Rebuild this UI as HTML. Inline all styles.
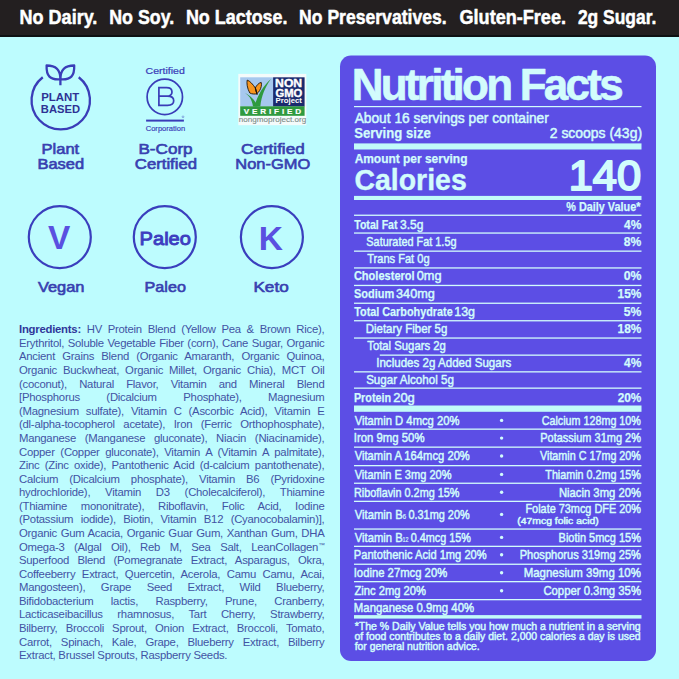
<!DOCTYPE html>
<html><head><meta charset="utf-8"><style>
*{margin:0;padding:0;box-sizing:border-box}
html,body{width:679px;height:679px;overflow:hidden;background:#bdfcfe}
body{font-family:"Liberation Sans", sans-serif;position:relative}
.a{position:absolute;white-space:nowrap}
svg text{font-family:"Liberation Sans",sans-serif}
.ing{position:absolute;left:18.5px;width:277.73px;font-size:10.3px;line-height:13.58px;color:#4253a4;text-align:justify;text-align-last:justify;white-space:nowrap;transform:scaleX(1.1);transform-origin:0 0;letter-spacing:-0.22px}
</style></head><body>
<div class="a" style="left:0;top:0;width:679px;height:37px;background:#231f20"></div><div class="a" style="left:0;top:34.5px;width:679px;height:2.5px;background:#0e1113"></div><svg class="a" style="left:0;top:0" width="679" height="37" viewBox="0 0 679 37"><text x="19.58" y="24.3" font-size="19.8" font-weight="700" fill="#ffffff" stroke="#ffffff" stroke-width="0.5" stroke-linejoin="round" textLength="77.76" lengthAdjust="spacingAndGlyphs">No Dairy.</text><text x="109.19" y="24.3" font-size="19.8" font-weight="700" fill="#ffffff" stroke="#ffffff" stroke-width="0.5" stroke-linejoin="round" textLength="64.98" lengthAdjust="spacingAndGlyphs">No Soy.</text><text x="185.88" y="24.3" font-size="19.8" font-weight="700" fill="#ffffff" stroke="#ffffff" stroke-width="0.5" stroke-linejoin="round" textLength="101.69" lengthAdjust="spacingAndGlyphs">No Lactose.</text><text x="299.11" y="24.3" font-size="19.8" font-weight="700" fill="#ffffff" stroke="#ffffff" stroke-width="0.5" stroke-linejoin="round" textLength="147.46" lengthAdjust="spacingAndGlyphs">No Preservatives.</text><text x="459.53" y="24.3" font-size="19.8" font-weight="700" fill="#ffffff" stroke="#ffffff" stroke-width="0.5" stroke-linejoin="round" textLength="106.48" lengthAdjust="spacingAndGlyphs">Gluten-Free.</text><text x="577.94" y="24.3" font-size="19.8" font-weight="700" fill="#ffffff" stroke="#ffffff" stroke-width="0.5" stroke-linejoin="round" textLength="78.37" lengthAdjust="spacingAndGlyphs">2g Sugar.</text></svg><svg class="a" style="left:0;top:37px" width="340" height="270" viewBox="0 37 340 270"><path d="M 42.77 77.24 A 29.2 29.2 0 1 0 78.73 77.24" fill="none" stroke="#3a3db8" stroke-width="2.3"/><path d="M 60.4 79.3 C 60.4 70.5 57 65.5 46.6 65.5 C 46.2 76 50 80.2 60.4 79.3 Z M 60.4 79.3 C 60.4 70.5 63.8 65.5 74.2 65.5 C 74.6 76 70.8 80.2 60.4 79.3 Z M 60.4 79 L 60.4 85.3" fill="none" stroke="#3a3db8" stroke-width="2.3" stroke-linejoin="round"/><text x="41.16" y="100.8" font-size="10.8" font-weight="700" fill="#2e3294" textLength="38.09" lengthAdjust="spacingAndGlyphs">PLANT</text><text x="40.87" y="112.5" font-size="10.8" font-weight="700" fill="#2e3294" textLength="39.18" lengthAdjust="spacingAndGlyphs">BASED</text><text x="145.57" y="73.5" font-size="8.8" font-weight="400" fill="#3a3db8" stroke="#3a3db8" stroke-width="0.2" textLength="39.30" lengthAdjust="spacingAndGlyphs">Certified</text><circle cx="164.8" cy="96.9" r="17.7" fill="none" stroke="#3a3db8" stroke-width="1.7"/><path d="M 166.5 96.2 H 158.9 V 87.6 H 166.5 C 170.5 87.6 172 89.5 172 91.9 C 172 94.3 170.5 96.2 166.5 96.2 H 167.5 C 171.7 96.2 173.7 98.2 173.7 100.8 C 173.7 103.4 171.7 105.4 167.5 105.4 H 158.9 V 96" fill="none" stroke="#3a3db8" stroke-width="1.7"/><rect x="146.1" y="119.6" width="37.8" height="2" fill="#3a3db8"/><circle cx="183" cy="116.8" r="0.9" fill="none" stroke="#3a3db8" stroke-width="0.4"/><text x="145.72" y="130.6" font-size="6.5" font-weight="400" fill="#3a3db8" stroke="#3a3db8" stroke-width="0.15" textLength="39.47" lengthAdjust="spacingAndGlyphs">Corporation</text><rect x="238.3" y="73.9" width="68" height="51.3" fill="#f4fbfb"/><rect x="240.2" y="77.3" width="32.9" height="29.2" fill="#a6c8ee"/><rect x="273.1" y="77.3" width="31.5" height="29.2" fill="#1b2a6e"/><rect x="240.2" y="106.3" width="64.4" height="9.5" fill="#2f9a3f"/><path d="M 243 92 C 248.5 94.5 252 99 253 106.4 L 257.5 106.4 C 255 99.5 249.5 94.5 243 92 Z" fill="#2f9a3f"/><path d="M 271 79 C 263.5 85.5 257.5 95 254.5 106.4 L 260.3 106.4 C 261.5 96 265 87 271 79 Z" fill="#2f9a3f"/><path d="M 255.3 88 C 253 84.5 250 81 247.2 80.1 C 246.6 83 247 88 249.8 93 C 252 94.2 255 94.2 256.8 93.8 Z M 255.3 88 C 256.5 85.5 258.5 83 261.2 82.4 C 262 84.5 261 88.5 259.6 90.6 C 258.8 92 257.8 93 256.8 93.6 Z" fill="#f7961f" stroke="#1e140a" stroke-width="0.9" stroke-linejoin="round"/><path d="M 255.4 87.8 L 257.2 95" stroke="#1e140a" stroke-width="0.9"/><text x="275.11" y="86.6" font-size="10.3" font-weight="700" fill="#ffffff" stroke="#ffffff" stroke-width="0.35" textLength="27.01" lengthAdjust="spacingAndGlyphs">NON</text><text x="275.45" y="97.1" font-size="10.3" font-weight="700" fill="#ffffff" stroke="#ffffff" stroke-width="0.35" textLength="26.84" lengthAdjust="spacingAndGlyphs">GMO</text><text x="275.49" y="103.3" font-size="6.9" font-weight="700" fill="#ffffff" textLength="26.43" lengthAdjust="spacingAndGlyphs">Project</text><text x="272.4" y="114.4" font-size="8.1" font-weight="700" fill="#ffffff" stroke="#ffffff" stroke-width="0.2" text-anchor="middle" textLength="57.5" lengthAdjust="spacing">VERIFIED</text><text x="238.88" y="121.9" font-size="6.4" font-weight="400" fill="#7d8c88" stroke="#7d8c88" stroke-width="0.1" textLength="67.34" lengthAdjust="spacingAndGlyphs">nongmoproject.org</text><text x="41.58" y="154" font-size="14.5" font-weight="400" fill="#3840b0" stroke="#3840b0" stroke-width="0.6" textLength="37.57" lengthAdjust="spacingAndGlyphs">Plant</text><text x="37.48" y="169.4" font-size="14.5" font-weight="400" fill="#3840b0" stroke="#3840b0" stroke-width="0.6" textLength="46.70" lengthAdjust="spacingAndGlyphs">Based</text><text x="138.43" y="154" font-size="14.5" font-weight="400" fill="#3840b0" stroke="#3840b0" stroke-width="0.6" textLength="54.20" lengthAdjust="spacingAndGlyphs">B-Corp</text><text x="134.86" y="169.4" font-size="14.5" font-weight="400" fill="#3840b0" stroke="#3840b0" stroke-width="0.6" textLength="62.20" lengthAdjust="spacingAndGlyphs">Certified</text><text x="241.05" y="153.9" font-size="14.5" font-weight="400" fill="#3840b0" stroke="#3840b0" stroke-width="0.6" textLength="63.64" lengthAdjust="spacingAndGlyphs">Certified</text><text x="235.28" y="168.9" font-size="14.5" font-weight="400" fill="#3840b0" stroke="#3840b0" stroke-width="0.6" textLength="74.98" lengthAdjust="spacingAndGlyphs">Non-GMO</text><circle cx="59.8" cy="237.1" r="31" fill="none" stroke="#3a3ebd" stroke-width="2.2"/><circle cx="164.8" cy="237.1" r="31" fill="none" stroke="#3a3ebd" stroke-width="2.2"/><circle cx="271.9" cy="237.1" r="31" fill="none" stroke="#3a3ebd" stroke-width="2.2"/><text x="47.93" y="249.4" font-size="33" font-weight="700" fill="#5a50e0" textLength="22.30" lengthAdjust="spacingAndGlyphs">V</text><text x="139.59" y="244.5" font-size="18.8" font-weight="400" fill="#3d3dc0" stroke="#3d3dc0" stroke-width="0.9" textLength="51.36" lengthAdjust="spacingAndGlyphs">Paleo</text><text x="258.82" y="249.9" font-size="33" font-weight="700" fill="#5a50e0" textLength="24.18" lengthAdjust="spacingAndGlyphs">K</text><text x="37.92" y="292" font-size="14.5" font-weight="400" fill="#3840b0" stroke="#3840b0" stroke-width="0.6" textLength="46.58" lengthAdjust="spacingAndGlyphs">Vegan</text><text x="144.61" y="292" font-size="14.5" font-weight="400" fill="#3840b0" stroke="#3840b0" stroke-width="0.6" textLength="41.28" lengthAdjust="spacingAndGlyphs">Paleo</text><text x="253.43" y="292" font-size="14.5" font-weight="400" fill="#3840b0" stroke="#3840b0" stroke-width="0.6" textLength="35.30" lengthAdjust="spacingAndGlyphs">Keto</text></svg><div class="ing" style="top:323.31px"><b style="color:#30379a">Ingredients:</b> HV Protein Blend (Yellow Pea &amp; Brown Rice),</div><div class="ing" style="top:336.89px">Erythritol, Soluble Vegetable Fiber (corn), Cane Sugar, Organic</div><div class="ing" style="top:350.47px">Ancient Grains Blend (Organic Amaranth, Organic Quinoa,</div><div class="ing" style="top:364.05px">Organic Buckwheat, Organic Millet, Organic Chia), MCT Oil</div><div class="ing" style="top:377.63px">(coconut), Natural Flavor, Vitamin and Mineral Blend</div><div class="ing" style="top:391.21px">[Phosphorus (Dicalcium Phosphate), Magnesium</div><div class="ing" style="top:404.79px">(Magnesium sulfate), Vitamin C (Ascorbic Acid), Vitamin E</div><div class="ing" style="top:418.37px">(dl-alpha-tocopherol acetate), Iron (Ferric Orthophosphate),</div><div class="ing" style="top:431.95px">Manganese (Manganese gluconate), Niacin (Niacinamide),</div><div class="ing" style="top:445.53px">Copper (Copper gluconate), Vitamin A (Vitamin A palmitate),</div><div class="ing" style="top:459.11px">Zinc (Zinc oxide), Pantothenic Acid (d-calcium pantothenate),</div><div class="ing" style="top:472.69px">Calcium (Dicalcium phosphate), Vitamin B6 (Pyridoxine</div><div class="ing" style="top:486.27px">hydrochloride), Vitamin D3 (Cholecalciferol), Thiamine</div><div class="ing" style="top:499.85px">(Thiamine mononitrate), Riboflavin, Folic Acid, Iodine</div><div class="ing" style="top:513.43px">(Potassium iodide), Biotin, Vitamin B12 (Cyanocobalamin)],</div><div class="ing" style="top:527.01px">Organic Gum Acacia, Organic Guar Gum, Xanthan Gum, DHA</div><div class="ing" style="top:540.59px">Omega-3 (Algal Oil), Reb M, Sea Salt, LeanCollagen<sup style="font-size:6px;vertical-align:4px;line-height:0">™</sup></div><div class="ing" style="top:554.17px">Superfood Blend (Pomegranate Extract, Asparagus, Okra,</div><div class="ing" style="top:567.75px">Coffeeberry Extract, Quercetin, Acerola, Camu Camu, Acai,</div><div class="ing" style="top:581.33px">Mangosteen), Grape Seed Extract, Wild Blueberry,</div><div class="ing" style="top:594.91px">Bifidobacterium lactis, Raspberry, Prune, Cranberry,</div><div class="ing" style="top:608.49px">Lacticaseibacillus rhamnosus, Tart Cherry, Strawberry,</div><div class="ing" style="top:622.07px">Bilberry, Broccoli Sprout, Onion Extract, Broccoli, Tomato,</div><div class="ing" style="top:635.65px">Carrot, Spinach, Kale, Grape, Blueberry Extract, Bilberry</div><div class="ing" style="top:649.23px;text-align:left;text-align-last:left">Extract, Brussel Sprouts, Raspberry Seeds.</div><svg class="a" style="left:0;top:0" width="679" height="679" viewBox="0 0 679 679"><rect x="340" y="55.5" width="316" height="605.5" rx="11" fill="#5c4ee5"/><text x="351.74" y="99.5" font-size="44" font-weight="700" fill="#d2fcfc" stroke="#d2fcfc" stroke-width="0.6" stroke-linejoin="round" textLength="271.96" lengthAdjust="spacing">Nutrition Facts</text><rect x="354" y="106" width="287.5" height="1.2" fill="#d2fcfc"/><text x="354.65" y="122.9" font-size="14.4" font-weight="400" fill="#d2fcfc" stroke="#d2fcfc" stroke-width="0.5" stroke-linejoin="round" textLength="194.18" lengthAdjust="spacingAndGlyphs">About 16 servings per container</text><text x="354.13" y="138.1" font-size="14.4" font-weight="700" fill="#d2fcfc" stroke="#d2fcfc" stroke-width="0.25" stroke-linejoin="round" textLength="76.62" lengthAdjust="spacingAndGlyphs">Serving size</text><text x="549.75" y="138.1" font-size="14.4" font-weight="400" fill="#d2fcfc" stroke="#d2fcfc" stroke-width="0.5" stroke-linejoin="round" textLength="92.30" lengthAdjust="spacingAndGlyphs">2 scoops (43g)</text><rect x="354" y="143.4" width="287.5" height="6.1" fill="#c2fbf9"/><text x="354.63" y="162.6" font-size="12" font-weight="700" fill="#d2fcfc" stroke="#d2fcfc" stroke-width="0.25" stroke-linejoin="round" textLength="112.84" lengthAdjust="spacingAndGlyphs">Amount per serving</text><text x="354.46" y="190.2" font-size="29" font-weight="700" fill="#d2fcfc" stroke="#d2fcfc" stroke-width="0.4" stroke-linejoin="round" textLength="112.31" lengthAdjust="spacingAndGlyphs">Calories</text><text x="568.74" y="190.4" font-size="42.5" font-weight="400" fill="#d2fcfc" stroke="#d2fcfc" stroke-width="2.0" stroke-linejoin="round" textLength="72.43" lengthAdjust="spacingAndGlyphs">140</text><rect x="354" y="195.9" width="287.5" height="4.1" fill="#c2fbf9"/><text x="566.35" y="211.2" font-size="12.8" font-weight="700" fill="#d2fcfc" stroke="#d2fcfc" stroke-width="0.25" stroke-linejoin="round" textLength="74.04" lengthAdjust="spacingAndGlyphs">% Daily Value*</text><rect x="354" y="214.6" width="287.5" height="1.3" fill="#d2fcfc"/><rect x="354" y="232.4" width="287.5" height="1.3" fill="#d2fcfc"/><rect x="354" y="250.5" width="287.5" height="1.3" fill="#d2fcfc"/><rect x="354" y="267.3" width="287.5" height="1.3" fill="#d2fcfc"/><rect x="354" y="284.8" width="287.5" height="1.3" fill="#d2fcfc"/><rect x="354" y="302.6" width="287.5" height="1.3" fill="#d2fcfc"/><rect x="354" y="320.1" width="287.5" height="1.3" fill="#d2fcfc"/><rect x="354" y="337.4" width="287.5" height="1.3" fill="#d2fcfc"/><rect x="354" y="371.2" width="287.5" height="1.3" fill="#d2fcfc"/><rect x="354" y="387.5" width="287.5" height="1.3" fill="#d2fcfc"/><rect x="379.8" y="354.5" width="261.7" height="1.3" fill="#d2fcfc"/><text x="354.22" y="228.6" font-size="13.3" font-weight="700" fill="#d2fcfc" stroke="#d2fcfc" stroke-width="0.25" stroke-linejoin="round" textLength="43.29" lengthAdjust="spacingAndGlyphs">Total Fat</text><text x="399.97" y="228.6" font-size="13.3" font-weight="400" fill="#d2fcfc" stroke="#d2fcfc" stroke-width="0.5" stroke-linejoin="round" textLength="23.38" lengthAdjust="spacingAndGlyphs">3.5g</text><text x="624.05" y="228.6" font-size="13.3" font-weight="700" fill="#d2fcfc" stroke="#d2fcfc" stroke-width="0.25" stroke-linejoin="round" textLength="17.33" lengthAdjust="spacingAndGlyphs">4%</text><text x="366.36" y="246.3" font-size="13.3" font-weight="400" fill="#d2fcfc" stroke="#d2fcfc" stroke-width="0.5" stroke-linejoin="round" textLength="90.13" lengthAdjust="spacingAndGlyphs">Saturated Fat 1.5g</text><text x="623.86" y="246.3" font-size="13.3" font-weight="700" fill="#d2fcfc" stroke="#d2fcfc" stroke-width="0.25" stroke-linejoin="round" textLength="17.52" lengthAdjust="spacingAndGlyphs">8%</text><text x="367.23" y="263.4" font-size="13.3" font-weight="400" fill="#d2fcfc" stroke="#d2fcfc" stroke-width="0.5" stroke-linejoin="round" textLength="62.36" lengthAdjust="spacingAndGlyphs">Trans Fat 0g</text><text x="353.88" y="280.3" font-size="13.3" font-weight="700" fill="#d2fcfc" stroke="#d2fcfc" stroke-width="0.25" stroke-linejoin="round" textLength="60.82" lengthAdjust="spacingAndGlyphs">Cholesterol</text><text x="416.74" y="280.3" font-size="13.3" font-weight="400" fill="#d2fcfc" stroke="#d2fcfc" stroke-width="0.5" stroke-linejoin="round" textLength="24.85" lengthAdjust="spacingAndGlyphs">0mg</text><text x="623.63" y="280.3" font-size="13.3" font-weight="700" fill="#d2fcfc" stroke="#d2fcfc" stroke-width="0.25" stroke-linejoin="round" textLength="17.75" lengthAdjust="spacingAndGlyphs">0%</text><text x="354.00" y="298.4" font-size="13.3" font-weight="700" fill="#d2fcfc" stroke="#d2fcfc" stroke-width="0.25" stroke-linejoin="round" textLength="40.26" lengthAdjust="spacingAndGlyphs">Sodium</text><text x="396.04" y="298.4" font-size="13.3" font-weight="400" fill="#d2fcfc" stroke="#d2fcfc" stroke-width="0.5" stroke-linejoin="round" textLength="38.77" lengthAdjust="spacingAndGlyphs">340mg</text><text x="617.61" y="298.4" font-size="13.3" font-weight="700" fill="#d2fcfc" stroke="#d2fcfc" stroke-width="0.25" stroke-linejoin="round" textLength="23.78" lengthAdjust="spacingAndGlyphs">15%</text><text x="354.22" y="316.1" font-size="13.3" font-weight="700" fill="#d2fcfc" stroke="#d2fcfc" stroke-width="0.25" stroke-linejoin="round" textLength="98.43" lengthAdjust="spacingAndGlyphs">Total Carbohydrate</text><text x="454.22" y="316.1" font-size="13.3" font-weight="400" fill="#d2fcfc" stroke="#d2fcfc" stroke-width="0.5" stroke-linejoin="round" textLength="20.79" lengthAdjust="spacingAndGlyphs">13g</text><text x="623.76" y="316.1" font-size="13.3" font-weight="700" fill="#d2fcfc" stroke="#d2fcfc" stroke-width="0.25" stroke-linejoin="round" textLength="17.62" lengthAdjust="spacingAndGlyphs">5%</text><text x="365.73" y="333.3" font-size="13.3" font-weight="400" fill="#d2fcfc" stroke="#d2fcfc" stroke-width="0.5" stroke-linejoin="round" textLength="81.55" lengthAdjust="spacingAndGlyphs">Dietary Fiber 5g</text><text x="617.61" y="333.3" font-size="13.3" font-weight="700" fill="#d2fcfc" stroke="#d2fcfc" stroke-width="0.25" stroke-linejoin="round" textLength="23.78" lengthAdjust="spacingAndGlyphs">18%</text><text x="367.22" y="350.4" font-size="13.3" font-weight="400" fill="#d2fcfc" stroke="#d2fcfc" stroke-width="0.5" stroke-linejoin="round" textLength="78.65" lengthAdjust="spacingAndGlyphs">Total Sugars 2g</text><text x="376.21" y="366.9" font-size="13.3" font-weight="400" fill="#d2fcfc" stroke="#d2fcfc" stroke-width="0.5" stroke-linejoin="round" textLength="135.15" lengthAdjust="spacingAndGlyphs">Includes 2g Added Sugars</text><text x="624.05" y="366.9" font-size="13.3" font-weight="700" fill="#d2fcfc" stroke="#d2fcfc" stroke-width="0.25" stroke-linejoin="round" textLength="17.33" lengthAdjust="spacingAndGlyphs">4%</text><text x="366.13" y="383.9" font-size="13.3" font-weight="400" fill="#d2fcfc" stroke="#d2fcfc" stroke-width="0.5" stroke-linejoin="round" textLength="87.79" lengthAdjust="spacingAndGlyphs">Sugar Alcohol 5g</text><text x="353.92" y="401.5" font-size="13.3" font-weight="700" fill="#d2fcfc" stroke="#d2fcfc" stroke-width="0.25" stroke-linejoin="round" textLength="37.20" lengthAdjust="spacingAndGlyphs">Protein</text><text x="393.20" y="401.5" font-size="13.3" font-weight="400" fill="#d2fcfc" stroke="#d2fcfc" stroke-width="0.5" stroke-linejoin="round" textLength="21.64" lengthAdjust="spacingAndGlyphs">20g</text><text x="617.71" y="401.5" font-size="13.3" font-weight="700" fill="#d2fcfc" stroke="#d2fcfc" stroke-width="0.25" stroke-linejoin="round" textLength="23.68" lengthAdjust="spacingAndGlyphs">20%</text><rect x="354" y="405.5" width="287.5" height="6.3" fill="#c2fbf9"/><rect x="354" y="428.5" width="287.5" height="1.3" fill="#d2fcfc"/><rect x="354" y="446.5" width="287.5" height="1.3" fill="#d2fcfc"/><rect x="354" y="465" width="287.5" height="1.3" fill="#d2fcfc"/><rect x="354" y="482.6" width="287.5" height="1.3" fill="#d2fcfc"/><rect x="354" y="500.7" width="287.5" height="1.3" fill="#d2fcfc"/><rect x="354" y="528.4" width="287.5" height="1.3" fill="#d2fcfc"/><rect x="354" y="545.7" width="287.5" height="1.3" fill="#d2fcfc"/><rect x="354" y="563.6" width="287.5" height="1.3" fill="#d2fcfc"/><rect x="354" y="581" width="287.5" height="1.3" fill="#d2fcfc"/><rect x="354" y="599" width="287.5" height="1.3" fill="#d2fcfc"/><text x="354.69" y="424.6" font-size="13.1" font-weight="400" fill="#d2fcfc" stroke="#d2fcfc" stroke-width="0.5" stroke-linejoin="round" textLength="104.84" lengthAdjust="spacingAndGlyphs">Vitamin D 4mcg 20%</text><text x="541.71" y="424.6" font-size="13.1" font-weight="400" fill="#d2fcfc" stroke="#d2fcfc" stroke-width="0.5" stroke-linejoin="round" textLength="99.18" lengthAdjust="spacingAndGlyphs">Calcium 128mg 10%</text><circle cx="501.6" cy="420.4" r="1.7" fill="#d2fcfc"/><text x="353.73" y="442.3" font-size="13.1" font-weight="400" fill="#d2fcfc" stroke="#d2fcfc" stroke-width="0.5" stroke-linejoin="round" textLength="70.83" lengthAdjust="spacingAndGlyphs">Iron 9mg 50%</text><text x="540.27" y="442.3" font-size="13.1" font-weight="400" fill="#d2fcfc" stroke="#d2fcfc" stroke-width="0.5" stroke-linejoin="round" textLength="100.67" lengthAdjust="spacingAndGlyphs">Potassium 31mg 2%</text><circle cx="501.6" cy="438.1" r="1.7" fill="#d2fcfc"/><text x="354.69" y="460.2" font-size="13.1" font-weight="400" fill="#d2fcfc" stroke="#d2fcfc" stroke-width="0.5" stroke-linejoin="round" textLength="115.16" lengthAdjust="spacingAndGlyphs">Vitamin A 164mcg 20%</text><text x="540.00" y="460.2" font-size="13.1" font-weight="400" fill="#d2fcfc" stroke="#d2fcfc" stroke-width="0.5" stroke-linejoin="round" textLength="100.93" lengthAdjust="spacingAndGlyphs">Vitamin C 17mg 20%</text><circle cx="501.6" cy="456.0" r="1.7" fill="#d2fcfc"/><text x="354.69" y="478.6" font-size="13.1" font-weight="400" fill="#d2fcfc" stroke="#d2fcfc" stroke-width="0.5" stroke-linejoin="round" textLength="96.83" lengthAdjust="spacingAndGlyphs">Vitamin E 3mg 20%</text><text x="545.34" y="478.6" font-size="13.1" font-weight="400" fill="#d2fcfc" stroke="#d2fcfc" stroke-width="0.5" stroke-linejoin="round" textLength="95.57" lengthAdjust="spacingAndGlyphs">Thiamin 0.2mg 15%</text><circle cx="501.6" cy="474.4" r="1.7" fill="#d2fcfc"/><text x="353.88" y="496.5" font-size="13.1" font-weight="400" fill="#d2fcfc" stroke="#d2fcfc" stroke-width="0.5" stroke-linejoin="round" textLength="105.62" lengthAdjust="spacingAndGlyphs">Riboflavin 0.2mg 15%</text><text x="558.95" y="496.5" font-size="13.1" font-weight="400" fill="#d2fcfc" stroke="#d2fcfc" stroke-width="0.5" stroke-linejoin="round" textLength="82.01" lengthAdjust="spacingAndGlyphs">Niacin 3mg 20%</text><circle cx="501.6" cy="492.3" r="1.7" fill="#d2fcfc"/><text x="525.48" y="512.9" font-size="13.1" font-weight="400" fill="#d2fcfc" stroke="#d2fcfc" stroke-width="0.5" stroke-linejoin="round" textLength="115.46" lengthAdjust="spacingAndGlyphs">Folate 73mcg DFE 20%</text><text x="558.57" y="541.6" font-size="13.1" font-weight="400" fill="#d2fcfc" stroke="#d2fcfc" stroke-width="0.5" stroke-linejoin="round" textLength="82.35" lengthAdjust="spacingAndGlyphs">Biotin 5mcg 15%</text><circle cx="501.6" cy="537.4" r="1.7" fill="#d2fcfc"/><text x="353.86" y="558.9" font-size="13.1" font-weight="400" fill="#d2fcfc" stroke="#d2fcfc" stroke-width="0.5" stroke-linejoin="round" textLength="132.75" lengthAdjust="spacingAndGlyphs">Pantothenic Acid 1mg 20%</text><text x="519.66" y="558.9" font-size="13.1" font-weight="400" fill="#d2fcfc" stroke="#d2fcfc" stroke-width="0.5" stroke-linejoin="round" textLength="121.24" lengthAdjust="spacingAndGlyphs">Phosphorus 319mg 25%</text><circle cx="501.6" cy="554.7" r="1.7" fill="#d2fcfc"/><text x="353.73" y="576.9" font-size="13.1" font-weight="400" fill="#d2fcfc" stroke="#d2fcfc" stroke-width="0.5" stroke-linejoin="round" textLength="93.49" lengthAdjust="spacingAndGlyphs">Iodine 27mcg 20%</text><text x="523.63" y="576.9" font-size="13.1" font-weight="400" fill="#d2fcfc" stroke="#d2fcfc" stroke-width="0.5" stroke-linejoin="round" textLength="117.29" lengthAdjust="spacingAndGlyphs">Magnesium 39mg 10%</text><circle cx="501.6" cy="572.7" r="1.7" fill="#d2fcfc"/><text x="354.41" y="594.9" font-size="13.1" font-weight="400" fill="#d2fcfc" stroke="#d2fcfc" stroke-width="0.5" stroke-linejoin="round" textLength="71.59" lengthAdjust="spacingAndGlyphs">Zinc 2mg 20%</text><text x="543.38" y="594.9" font-size="13.1" font-weight="400" fill="#d2fcfc" stroke="#d2fcfc" stroke-width="0.5" stroke-linejoin="round" textLength="97.58" lengthAdjust="spacingAndGlyphs">Copper 0.3mg 35%</text><circle cx="501.6" cy="590.7" r="1.7" fill="#d2fcfc"/><text x="353.84" y="611.7" font-size="13.1" font-weight="400" fill="#d2fcfc" stroke="#d2fcfc" stroke-width="0.5" stroke-linejoin="round" textLength="120.28" lengthAdjust="spacingAndGlyphs">Manganese 0.9mg 40%</text><text x="354.79" y="518.6" font-size="13.1" font-weight="400" fill="#d2fcfc" stroke="#d2fcfc" stroke-width="0.5" stroke-linejoin="round" textLength="47.93" lengthAdjust="spacingAndGlyphs">Vitamin B</text><text x="402.70" y="518.6" font-size="7.4" font-weight="400" fill="#d2fcfc" stroke="#d2fcfc" stroke-width="0.2" stroke-linejoin="round" textLength="3.35" lengthAdjust="spacingAndGlyphs">6</text><text x="408.41" y="518.6" font-size="13.1" font-weight="400" fill="#d2fcfc" stroke="#d2fcfc" stroke-width="0.5" stroke-linejoin="round" textLength="61.32" lengthAdjust="spacingAndGlyphs">0.31mg 20%</text><text x="354.79" y="541.6" font-size="13.1" font-weight="400" fill="#d2fcfc" stroke="#d2fcfc" stroke-width="0.5" stroke-linejoin="round" textLength="47.93" lengthAdjust="spacingAndGlyphs">Vitamin B</text><text x="402.40" y="541.6" font-size="7.4" font-weight="400" fill="#d2fcfc" stroke="#d2fcfc" stroke-width="0.2" stroke-linejoin="round" textLength="5.99" lengthAdjust="spacingAndGlyphs">12</text><text x="410.72" y="541.6" font-size="13.1" font-weight="400" fill="#d2fcfc" stroke="#d2fcfc" stroke-width="0.5" stroke-linejoin="round" textLength="60.20" lengthAdjust="spacingAndGlyphs">0.4mcg 15%</text><circle cx="501.6" cy="514.4" r="1.7" fill="#d2fcfc"/><text x="517.33" y="523.9" font-size="9.2" font-weight="400" fill="#d2fcfc" stroke="#d2fcfc" stroke-width="0.5" stroke-linejoin="round" textLength="81.36" lengthAdjust="spacingAndGlyphs">(47mcg folic acid)</text><rect x="354" y="615.1" width="287.5" height="3.5" fill="#c2fbf9"/><text x="354.67" y="629.5" font-size="10.2" font-weight="400" fill="#d2fcfc" stroke="#d2fcfc" stroke-width="0.45" stroke-linejoin="round" textLength="286.01" lengthAdjust="spacingAndGlyphs">*The % Daily Value tells you how much a nutrient in a serving</text><text x="354.41" y="639.6" font-size="10.2" font-weight="400" fill="#d2fcfc" stroke="#d2fcfc" stroke-width="0.45" stroke-linejoin="round" textLength="286.25" lengthAdjust="spacingAndGlyphs">of food contributes to a daily diet. 2,000 calories a day is used</text><text x="354.67" y="649.8" font-size="10.2" font-weight="400" fill="#d2fcfc" stroke="#d2fcfc" stroke-width="0.45" stroke-linejoin="round" textLength="125.07" lengthAdjust="spacingAndGlyphs">for general nutrition advice.</text></svg>
</body></html>
